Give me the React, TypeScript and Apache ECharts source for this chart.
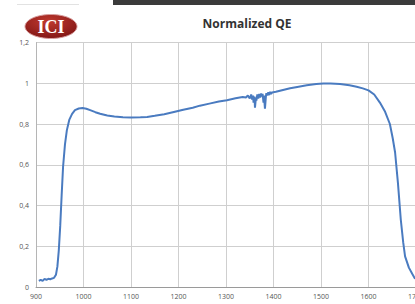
import React, { useEffect, useRef } from "react";
import * as echarts from "echarts";

const wavelengths = [
  906, 910, 914, 918, 922, 926, 930, 934, 938, 942, 945, 948, 951, 954, 957, 961, 965, 970, 976, 982,
  990, 998, 1006, 1014, 1025, 1035, 1050, 1065, 1083, 1100, 1120, 1134, 1150, 1170, 1188, 1210, 1230,
  1245, 1265, 1285, 1302, 1320, 1335, 1342, 1346, 1350, 1353, 1355, 1357, 1358, 1360, 1361, 1363, 1364,
  1366, 1368, 1370, 1372, 1374, 1376, 1377, 1379, 1380, 1382, 1384, 1385, 1387, 1389, 1391, 1393, 1395,
  1397, 1405, 1420, 1435, 1450, 1470, 1490, 1505, 1520, 1540, 1560, 1575, 1588, 1600, 1612,
  1624, 1635, 1645, 1651, 1656, 1662, 1668, 1673, 1677, 1685, 1692, 1698,
];
const qeValues = [
  0.03, 0.035, 0.03, 0.04, 0.035, 0.04, 0.038, 0.042, 0.045, 0.06, 0.1, 0.18, 0.3, 0.45, 0.59, 0.7,
  0.77, 0.82, 0.85, 0.868, 0.876, 0.878, 0.875, 0.868, 0.858, 0.85, 0.842, 0.837, 0.833, 0.832, 0.833,
  0.834, 0.84, 0.848, 0.858, 0.87, 0.88, 0.89, 0.9, 0.91, 0.917, 0.926, 0.933, 0.93, 0.94, 0.925,
  0.945, 0.92, 0.94, 0.905, 0.935, 0.88, 0.93, 0.915, 0.945, 0.925, 0.948, 0.93, 0.95, 0.935, 0.948,
  0.905, 0.94, 0.875, 0.935, 0.952, 0.94, 0.955, 0.942, 0.958, 0.948, 0.955, 0.958, 0.967, 0.975, 0.982, 0.99,
  0.996, 0.999, 0.999, 0.996, 0.99, 0.983, 0.975, 0.965, 0.945, 0.905, 0.86, 0.8, 0.73, 0.66, 0.51,
  0.33, 0.22, 0.15, 0.095, 0.065, 0.04,
];
const titleText = "Normalized QE";
const logoText = "ICI";

export default function App() {
  const ref = useRef<HTMLDivElement>(null);
  useEffect(() => {
    document.body.style.margin = "0";
    const chart = echarts.init(ref.current!, null, { renderer: "svg" });
    const data = wavelengths.map((w, i) => [w, qeValues[i]]);
    chart.setOption({
      animation: false,
      backgroundColor: "#ffffff",
      grid: {
        left: 36,
        top: 42.5,
        width: 380,
        height: 244.5,
        containLabel: false,
        outerBoundsMode: "none",
      },
      xAxis: {
        type: "value",
        min: 900,
        max: 1700,
        interval: 100,
        axisLine: { show: true, lineStyle: { color: "#9a9a9a", width: 1 } },
        axisTick: { show: false },
        splitLine: { show: true, lineStyle: { color: "#cfcfcf", width: 1 } },
        axisLabel: {
          fontSize: 7,
          color: "#555",
          margin: 6,
          fontFamily: "Open Sans",
          formatter: (v: number) => String(v),
        },
      },
      yAxis: {
        type: "value",
        min: 0,
        max: 1.2,
        interval: 0.2,
        axisLine: { show: true, lineStyle: { color: "#b5b5b5", width: 1 } },
        axisTick: { show: false },
        splitLine: { show: true, lineStyle: { color: "#cfcfcf", width: 1 } },
        axisLabel: {
          fontSize: 7,
          color: "#555",
          margin: 7,
          fontFamily: "Open Sans",
          formatter: (v: number) => String(Math.round(v * 10) / 10).replace(".", ","),
        },
      },
      series: [
        {
          type: "line",
          data,
          showSymbol: false,
          symbol: "none",
          lineStyle: { color: "#4a7bc0", width: 2 },
        },
      ],
      graphic: [
        { type: "rect", shape: { x: 113, y: 0, width: 302, height: 5 }, style: { fill: "#3b3b3b" } },
        { type: "rect", shape: { x: 17, y: 4, width: 62, height: 1 }, style: { fill: "#e2e2e2" } },
        {
          type: "ellipse",
          shape: { cx: 51, cy: 26.5, rx: 26, ry: 12 },
          style: {
            fill: {
              type: "radial",
              x: 0.45,
              y: 0.3,
              r: 0.8,
              colorStops: [
                { offset: 0, color: "#c0392f" },
                { offset: 1, color: "#7a1212" },
              ],
            },
            stroke: "#d9a0a0",
            lineWidth: 1,
          },
        },
        {
          type: "text",
          x: 51,
          y: 27,
          style: {
            text: logoText,
            fill: "#ffffff",
            font: "bold 18px 'Liberation Serif', serif",
            textAlign: "center",
            textVerticalAlign: "middle",
          },
        },
        {
          type: "text",
          x: 247,
          y: 23,
          style: {
            text: titleText,
            fill: "#333333",
            font: "bold 12px 'Open Sans', sans-serif",
            textAlign: "center",
            textVerticalAlign: "middle",
          },
        },
      ],
    });
    return () => chart.dispose();
  }, []);
  return <div ref={ref} style={{ position: "fixed", left: 0, top: 0, width: 415, height: 304 }} />;
}
